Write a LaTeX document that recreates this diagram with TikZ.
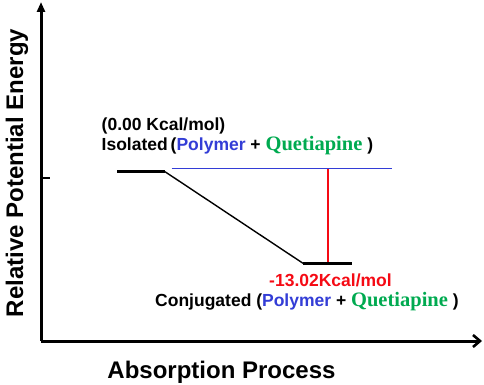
\documentclass[tikz,border=0pt]{standalone}
\usepackage{fontspec}
\setmainfont{Liberation Sans}
\newfontfamily\qfont{Liberation Serif}
\usetikzlibrary{arrows.meta}
\definecolor{polyblue}{RGB}{51,61,214}
\definecolor{qgreen}{RGB}{0,170,80}
\definecolor{ered}{RGB}{245,10,20}
\newcommand{\Poly}{\textcolor{polyblue}{Polymer}}
\newcommand{\Quet}{\textcolor{qgreen}{\qfont\fontsize{20.5}{22}\selectfont Quetiapine}}
\begin{document}
\begin{tikzpicture}[x=1pt,y=-1pt,
  axis/.style={line width=3pt},
  level/.style={line width=3.3pt},
  lbl/.style={font=\bfseries\fontsize{17.5}{19}\selectfont, inner sep=0pt}]
\useasboundingbox (0,0) rectangle (484,385);
\coordinate (O) at (41,341);
\coordinate (Ytop) at (41,2);
\coordinate (Xend) at (482,341);
\draw[axis,-{Triangle[length=10pt,width=8pt]}] (O) -- (Ytop);
\draw[axis,-{Straight Barb[length=7pt,width=12pt,line width=2.6pt]}] (O) -- (Xend);
\coordinate (t1) at (41,178);
\coordinate (t2) at (50,178);
\draw[line width=2pt] (t1) -- (t2);
% levels
\coordinate (a1) at (117,171.7);
\coordinate (a2) at (165,171.7);
\coordinate (b1) at (303,263.3);
\coordinate (b2) at (352,263.3);
\draw[level] (a1) -- (a2);
\draw[level] (b1) -- (b2);
\draw[line width=1.4pt] (a2) -- (b1);
\coordinate (c1) at (171.5,168.3);
\coordinate (c2) at (391.5,168.3);
\draw[polyblue,line width=1.3pt] (c1) -- (c2);
\coordinate (r1) at (328,169);
\coordinate (r2) at (328,262);
\draw[ered,line width=1.4pt] (r1) -- (r2);
% labels
\node[lbl,anchor=base west] (e0) at (101.5,131) {(0.00 Kcal/mol)};
\node[lbl,anchor=base west] (iso) at (101.5,150.7) {Isolated\,(\Poly{} + \Quet{} )};
\node[lbl,anchor=base,text=ered] (e1) at (330.5,286) {-13.02Kcal/mol};
\node[lbl,anchor=base west] (conj) at (155,306.7) {Conjugated (\Poly{} + \Quet{} )};
\node[font=\bfseries\fontsize{24}{26}\selectfont, inner sep=0pt, anchor=base] (xl) at (221.5,378) {Absorption Process};
\node[font=\bfseries\fontsize{24}{26}\selectfont, inner sep=0pt, rotate=90, anchor=base] (yl) at (23,173) {Relative Potential Energy};
\end{tikzpicture}
\end{document}
